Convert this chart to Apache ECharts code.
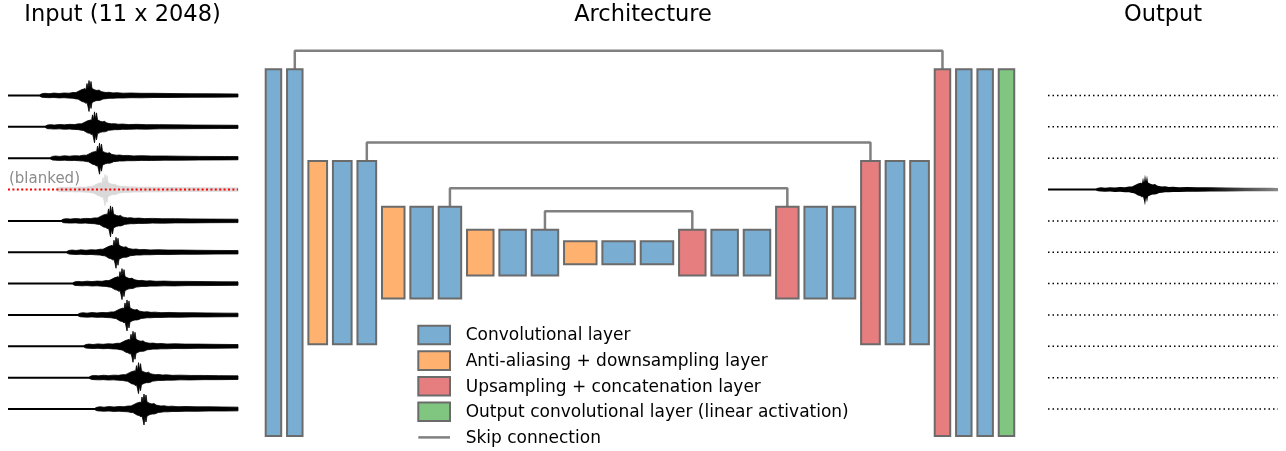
<!DOCTYPE html>
<html>
<head>
<meta charset="utf-8">
<script src="https://cdn.jsdelivr.net/npm/echarts@6/dist/echarts.min.js"></script>
<style>
html,body{margin:0;padding:0;background:#fff;}
#chart{width:1286px;height:451px;}
</style>
</head>
<body>
<div id="chart"></div>
<script>
// ---------------- data ----------------
const panelTitles = ['Input (11 x 2048)', 'Architecture', 'Output'];
const layerTypes = ['conv','conv',
  'down','conv','conv',
  'down','conv','conv',
  'down','conv','conv',
  'down','conv','conv',
  'up','conv','conv',
  'up','conv','conv',
  'up','conv','conv',
  'up','conv','conv','out'];
const layerLevels = [0,0, 1,1,1, 2,2,2, 3,3,3, 4,4,4, 3,3,3, 2,2,2, 1,1,1, 0,0,0,0];
const levelHeights = [366.7, 183.3, 91.7, 45.8, 22.9];   // drawn length of each resolution level
const levelWidths  = [15.5, 18.7, 22.5, 26.5, 32.5];     // drawn width of each level
const skipLevels = [0, 1, 2, 3];
const legendTypes = ['conv', 'down', 'up', 'out'];
const typeNames = {
  conv: 'Convolutional layer',
  down: 'Anti-aliasing + downsampling layer',
  up:   'Upsampling + concatenation layer',
  out:  'Output convolutional layer (linear activation)'
};
const skipName = 'Skip connection';
const blankedLabel = '(blanked)';

// input traces: position of main burst peak for each of the 11 channels
const inputPeakX = [89, 94.5, 99.5, 105, 110.5, 116, 122, 127, 133, 138.5, 144];
const blankedIndex = 3;
const outputPeakX = 1145;   // reconstructed channel (index 3)

// waveform envelope relative to burst peak
const envDx   = [-49,-47,-44,-40,-35,-30,-25,-20,-16,-13,-11,-9,-7,-5,-4,-3,-2,-1,0,1,2,3,4,5,6,8,10,12,14,17,20,24,28,34,42,52,65,80,100,125,150,175];
const envUp   = [0.8,1.8,2.2,1.8,2.4,2.0,2.5,2.3,3.0,3.0,4.0,5.0,6.0,6.5,7.0,6.0,12.0,7.0,15.0,8.0,14.0,7.0,6.5,6.0,5.5,5.0,5.5,4.0,3.5,3.0,3.2,2.6,2.8,2.3,2.5,2.2,2.2,2.0,1.8,1.7,1.5,1.4];
const envDown = [0.8,1.8,2.0,2.2,2.0,2.4,2.2,2.6,2.8,3.4,3.6,4.8,6.0,6.5,7.0,8.0,7.0,11.0,16.0,8.0,13.0,7.0,6.5,6.0,5.5,5.0,5.0,4.5,3.5,3.2,2.8,2.8,2.5,2.5,2.2,2.3,2.0,2.0,1.8,1.7,1.5,1.4];

// ---------------- layout ----------------
const archX0 = 265.7, barGap = 5.84, centerY = 252.7, skipRise = 18.5;
const traceY0 = 95.5, traceStep = 31.35;
const inputRange = [8, 238], outputRange = [1048, 1278];
const colors = {conv:'#79add2', down:'#ffb270', up:'#e67d7e', out:'#80c680'};
const edgeColor = '#6b6b6b', skipColor = '#808080';
const FONT = '"DejaVu Sans", "Liberation Sans", sans-serif';
const legendX = 418.3, legendY = 325.7, legendRow = 25.6, legendBoxW = 31.7, legendBoxH = 18.6, legendTextX = 465.7;

const bars = [];
let cx = archX0;
layerTypes.forEach((t, i) => {
  const lv = layerLevels[i], w = levelWidths[lv], h = levelHeights[lv];
  bars.push({type: t, level: lv, value: [cx, cx + w, centerY - h / 2, centerY + h / 2]});
  cx += w + barGap;
});
const bottleneckStart = layerLevels.indexOf(4);
function skipPath(level) {
  let enc = -1;
  for (let i = 0; i < bottleneckStart; i++) if (layerLevels[i] === level && layerTypes[i] === 'conv') enc = i;
  let dec = -1;
  for (let i = bottleneckStart; i < layerTypes.length; i++) if (layerLevels[i] === level && layerTypes[i] === 'up') { dec = i; break; }
  const a = bars[enc].value, b = bars[dec].value;
  const xa = (a[0] + a[1]) / 2, xb = (b[0] + b[1]) / 2, yl = a[2] - skipRise;
  return [[xa, a[2]], [xa, yl], [xb, yl], [xb, b[2]]];
}

function traceY(i) { return traceY0 + i * traceStep; }

function envAt(arr, dx) {
  if (dx <= envDx[0]) return arr[0];
  for (let k = 1; k < envDx.length; k++) {
    if (dx <= envDx[k]) {
      const f = (dx - envDx[k - 1]) / (envDx[k] - envDx[k - 1]);
      return arr[k - 1] + f * (arr[k] - arr[k - 1]);
    }
  }
  return arr[arr.length - 1];
}

function traceShape(api, peak, y, range) {
  const up = [], dn = [];
  const xs = [];
  envDx.forEach(d => { const x = peak + d; if (x > range[0] && x < range[1]) xs.push(x); });
  if (peak + envDx[envDx.length - 1] > range[1]) xs.push(range[1]);
  xs.forEach(x => {
    up.push(api.coord([x, y - envAt(envUp, x - peak)]));
    dn.push(api.coord([x, y + envAt(envDown, x - peak)]));
  });
  return up.concat(dn.reverse());
}

function renderTrace(range, color, baseColor, fade) {
  return function (params, api) {
    const i = api.value(0), peak = api.value(1), y = traceY(i);
    const p0 = api.coord([range[0], y]), p1 = api.coord([range[1], y]);
    const children = [];
    if (baseColor) children.push({type:'line', shape:{x1:p0[0], y1:p0[1], x2:p1[0], y2:p1[1]}, style:{stroke: baseColor, lineWidth:2}});
    let fill = color;
    if (fade) {
      const pts = traceShape(api, peak, y, range);
      const xMin = Math.min(...pts.map(p => p[0])), xMax = Math.max(...pts.map(p => p[0]));
      fill = new echarts.graphic.LinearGradient(0, 0, 1, 0, [
        {offset: 0, color: color}, {offset: 0.6, color: color}, {offset: 1, color: '#8a8a8a'}
      ]);
      children.push({type:'polygon', shape:{points: pts}, style:{fill: fill, lineWidth: 0}});
      return {type:'group', children};
    }
    children.push({type:'polygon', shape:{points: traceShape(api, peak, y, range)}, style:{fill: fill, stroke: color, lineWidth: 0.8, lineJoin:'round'}});
    return {type:'group', children};
  };
}

function renderDotted(range, color, dash, width) {
  return function (params, api) {
    const y = traceY(api.value(0));
    const p0 = api.coord([range[0], y]), p1 = api.coord([range[1], y]);
    return {type:'line', shape:{x1:p0[0], y1:p0[1], x2:p1[0], y2:p1[1]}, style:{stroke: color, lineWidth: width, lineDash: dash}};
  };
}

function renderBar(params, api) {
  const a = api.coord([api.value(0), api.value(2)]);
  const b = api.coord([api.value(1), api.value(3)]);
  return {type:'rect', shape:{x:a[0], y:a[1], width:b[0]-a[0], height:b[1]-a[1]},
    style:{fill: api.visual('color'), stroke: edgeColor, lineWidth: 2}};
}

const series = [];
legendTypes.forEach(t => {
  series.push({
    type:'custom', name: typeNames[t], renderItem: renderBar, z: 3,
    itemStyle:{color: colors[t], borderColor: edgeColor, borderWidth: 2},
    encode:{x:[0,1], y:[2,3]},
    data: bars.filter(b => b.type === t).map(b => b.value),
    silent: true
  });
});
skipLevels.forEach(lv => {
  series.push({
    type:'line', name: skipName, data: skipPath(lv), symbol:'none', z: 2,
    lineStyle:{color: skipColor, width:2.5}, itemStyle:{color: skipColor}, silent: true
  });
});
// input traces
series.push({
  type:'custom', name:'input', z: 4, silent: true,
  renderItem: renderTrace(inputRange, '#000', '#000', false),
  encode:{x:1, y:0},
  data: inputPeakX.map((p, i) => [i, p]).filter(d => d[0] !== blankedIndex)
});
series.push({
  type:'custom', name:'blanked', z: 4, silent: true,
  renderItem: renderTrace(inputRange, '#d9d9d9', null, false),
  encode:{x:1, y:0},
  data: [[blankedIndex, inputPeakX[blankedIndex]]]
});
series.push({
  type:'custom', name:'blankedLine', z: 5, silent: true,
  renderItem: renderDotted(inputRange, '#ff0000', [2, 2.4], 2),
  encode:{y:0},
  data: [[blankedIndex]]
});
// output traces
series.push({
  type:'custom', name:'outputEmpty', z: 4, silent: true,
  renderItem: renderDotted(outputRange, '#000', [1.5, 3], 1.5),
  encode:{y:0},
  data: inputPeakX.map((p, i) => [i]).filter(d => d[0] !== blankedIndex)
});
series.push({
  type:'custom', name:'output', z: 4, silent: true,
  renderItem: renderTrace(outputRange, '#000', '#000', true),
  encode:{x:1, y:0},
  data: [[blankedIndex, outputPeakX]]
});

// titles, label and legend drawn as graphic elements
const graphics = [
  {type:'text', x:122.5, y:15, style:{text: panelTitles[0], font:'22.5px ' + FONT, fill:'#000', textAlign:'center', textVerticalAlign:'middle'}},
  {type:'text', x:643, y:15, style:{text: panelTitles[1], font:'22.5px ' + FONT, fill:'#000', textAlign:'center', textVerticalAlign:'middle'}},
  {type:'text', x:1163, y:15, style:{text: panelTitles[2], font:'22.5px ' + FONT, fill:'#000', textAlign:'center', textVerticalAlign:'middle'}},
  {type:'text', x:9, y:179, z: 10, style:{text: blankedLabel, font:'15px ' + FONT, fill:'#8c8c8c', textAlign:'left', textVerticalAlign:'middle'}}
];
legendTypes.forEach((t, k) => {
  const y = legendY + k * legendRow;
  graphics.push({type:'rect', shape:{x: legendX, y: y, width: legendBoxW, height: legendBoxH},
    style:{fill: colors[t], stroke: edgeColor, lineWidth: 2}});
  graphics.push({type:'text', x: legendTextX, y: y + legendBoxH / 2 + 1,
    style:{text: typeNames[t], font:'17px ' + FONT, fill:'#000', textAlign:'left', textVerticalAlign:'middle'}});
});
{
  const y = legendY + 4 * legendRow + legendBoxH / 2;
  graphics.push({type:'line', shape:{x1: legendX, y1: y, x2: legendX + legendBoxW, y2: y},
    style:{stroke: skipColor, lineWidth: 2.5}});
  graphics.push({type:'text', x: legendTextX, y: y + 1,
    style:{text: skipName, font:'17px ' + FONT, fill:'#000', textAlign:'left', textVerticalAlign:'middle'}});
}

const chart = echarts.init(document.getElementById('chart'), null, {renderer:'canvas'});
chart.setOption({
  animation: false,
  backgroundColor: '#fff',
  grid: {left:0, top:0, right:0, bottom:0},
  xAxis: {type:'value', min:0, max:1286, show:false},
  yAxis: {type:'value', min:0, max:451, inverse:true, show:false},
  graphic: graphics,
  series: series
});
</script>
</body>
</html>
